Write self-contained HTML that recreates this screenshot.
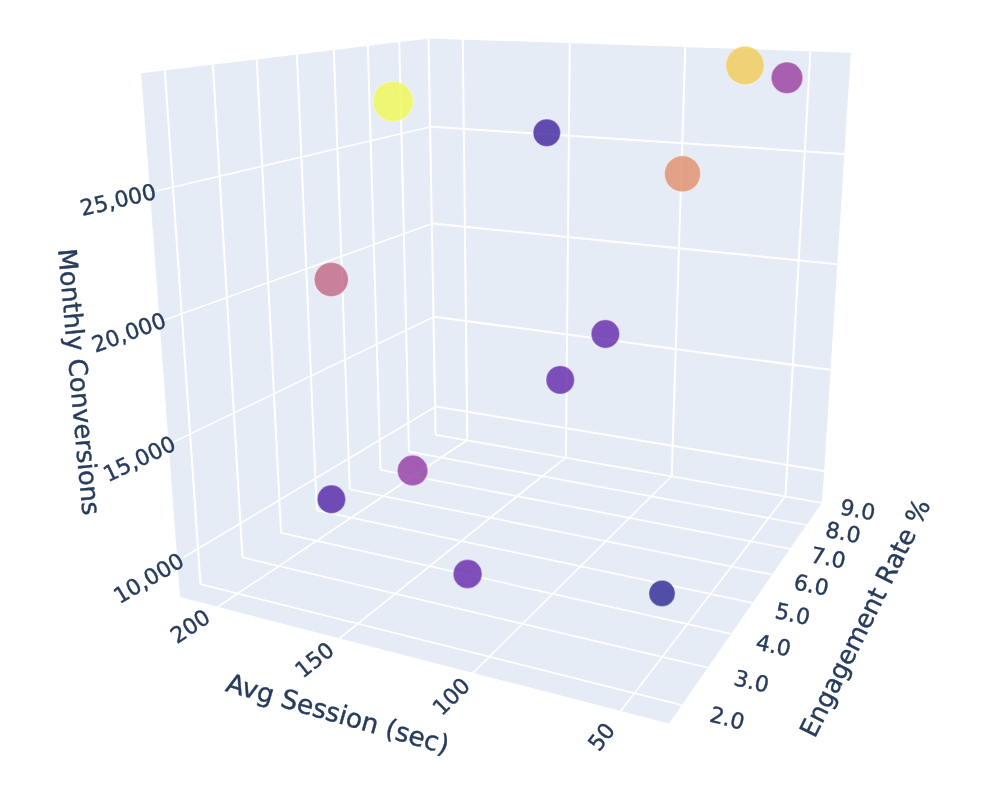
<!DOCTYPE html>
<html><head><meta charset="utf-8"><title>3D scatter</title>
<style>html,body{margin:0;padding:0;background:#fff}svg{display:block}</style></head>
<body><svg width="1000" height="807" viewBox="0 0 1000 807">
<rect width="1000" height="807" fill="#fff"/>
<polygon points="141.2,73.3 429.1,38.4 850.8,52.8 822.1,502.5 669.1,723.5 180.0,597.1" fill="#e5ecf6"/>
<g stroke="#fff" fill="none" stroke-linecap="butt">
<path d="M200.5,584.1 L164.8,70.4" stroke-width="2.0"/>
<path d="M681.9,705.1 L200.5,584.1" stroke-width="1.7"/>
<path d="M242.5,557.4 L212.9,64.6" stroke-width="2.0"/>
<path d="M707.7,667.7 L242.5,557.4" stroke-width="1.7"/>
<path d="M281.1,532.9 L256.7,59.3" stroke-width="2.0"/>
<path d="M731.2,633.8 L281.1,532.9" stroke-width="1.7"/>
<path d="M316.8,510.3 L296.9,54.4" stroke-width="2.0"/>
<path d="M752.5,602.9 L316.8,510.3" stroke-width="1.7"/>
<path d="M349.8,489.3 L333.8,50.0" stroke-width="2.0"/>
<path d="M772.1,574.7 L349.8,489.3" stroke-width="1.7"/>
<path d="M380.5,469.8 L367.8,45.8" stroke-width="2.0"/>
<path d="M790.0,548.8 L380.5,469.8" stroke-width="1.7"/>
<path d="M409.0,451.7 L399.3,42.0" stroke-width="2.0"/>
<path d="M806.5,525.0 L409.0,451.7" stroke-width="1.7"/>
<path d="M435.6,434.8 L428.5,38.5" stroke-width="2.0"/>
<path d="M821.7,502.9 L435.6,434.8" stroke-width="1.7"/>
<path d="M785.5,496.0 L810.4,51.4" stroke-width="2.0"/>
<path d="M620.7,711.0 L785.5,496.0" stroke-width="1.7"/>
<path d="M671.7,476.0 L685.3,47.1" stroke-width="2.0"/>
<path d="M473.0,672.8 L671.7,476.0" stroke-width="1.7"/>
<path d="M565.9,457.3 L569.8,43.2" stroke-width="2.0"/>
<path d="M339.4,638.3 L565.9,457.3" stroke-width="1.7"/>
<path d="M467.3,440.0 L462.8,39.6" stroke-width="2.0"/>
<path d="M217.8,606.9 L467.3,440.0" stroke-width="1.7"/>
<path d="M177.4,561.0 L435.7,406.5" stroke-width="1.6"/>
<path d="M824.1,471.0 L435.7,406.5" stroke-width="2.0"/>
<path d="M168.7,444.4 L434.1,316.7" stroke-width="1.6"/>
<path d="M830.5,369.8 L434.1,316.7" stroke-width="2.0"/>
<path d="M159.6,321.7 L432.4,223.5" stroke-width="1.6"/>
<path d="M837.3,264.2 L432.4,223.5" stroke-width="2.0"/>
<path d="M150.0,192.5 L430.7,126.7" stroke-width="1.6"/>
<path d="M844.3,153.9 L430.7,126.7" stroke-width="2.0"/>
</g>
<g stroke="#fff" stroke-opacity="0.45" stroke-width="0.8">
<circle cx="393.10" cy="101.40" r="20.10" fill="rgb(241,248,78)" fill-opacity="0.78"/>
<circle cx="745.00" cy="65.50" r="19.20" fill="rgb(243,203,82)" fill-opacity="0.78"/>
<circle cx="787.00" cy="77.80" r="15.80" fill="rgb(153,55,156)" fill-opacity="0.78"/>
<circle cx="546.80" cy="132.80" r="13.70" fill="rgb(60,30,154)" fill-opacity="0.78"/>
<circle cx="682.50" cy="173.85" r="18.00" fill="rgb(225,139,104)" fill-opacity="0.78"/>
<circle cx="331.25" cy="279.50" r="17.00" fill="rgb(194,98,129)" fill-opacity="0.78"/>
<circle cx="605.35" cy="334.00" r="14.20" fill="rgb(94,33,168)" fill-opacity="0.78"/>
<circle cx="560.25" cy="379.90" r="14.20" fill="rgb(94,33,168)" fill-opacity="0.78"/>
<circle cx="412.60" cy="470.45" r="15.20" fill="rgb(144,51,161)" fill-opacity="0.78"/>
<circle cx="331.40" cy="499.30" r="14.20" fill="rgb(79,30,164)" fill-opacity="0.78"/>
<circle cx="467.60" cy="574.00" r="14.40" fill="rgb(98,33,168)" fill-opacity="0.78"/>
<circle cx="662.00" cy="593.40" r="13.10" fill="rgb(38,33,142)" fill-opacity="0.78"/>
</g>
<g fill="#273b5b" stroke="#273b5b" stroke-width="0.4" font-family="'DejaVu Sans','Liberation Sans',sans-serif" text-anchor="middle">
<text transform="translate(118.0 199.5) rotate(-13.2)" font-size="22.0" dy="0.365em">25,000</text>
<text transform="translate(128.7 332.1) rotate(-19.8)" font-size="22.0" dy="0.365em">20,000</text>
<text transform="translate(139.2 458.5) rotate(-25.7)" font-size="22.0" dy="0.365em">15,000</text>
<text transform="translate(148.5 577.9) rotate(-30.9)" font-size="22.0" dy="0.365em">10,000</text>
<text transform="translate(190.0 626.0) rotate(-33.8)" font-size="22.0" dy="0.365em">200</text>
<text transform="translate(314.2 659.6) rotate(-38.7)" font-size="22.0" dy="0.365em">150</text>
<text transform="translate(451.0 696.2) rotate(-44.8)" font-size="22.0" dy="0.365em">100</text>
<text transform="translate(601.2 736.5) rotate(-52.5)" font-size="22.0" dy="0.365em">50</text>
<text transform="translate(857.9 509.5) rotate(10.0)" font-size="22.0" dy="0.365em">9.0</text>
<text transform="translate(843.2 532.1) rotate(10.4)" font-size="22.0" dy="0.365em">8.0</text>
<text transform="translate(828.4 557.4) rotate(10.9)" font-size="22.0" dy="0.365em">7.0</text>
<text transform="translate(811.4 584.5) rotate(11.5)" font-size="22.0" dy="0.365em">6.0</text>
<text transform="translate(792.7 613.6) rotate(12.0)" font-size="22.0" dy="0.365em">5.0</text>
<text transform="translate(773.6 644.9) rotate(12.7)" font-size="22.0" dy="0.365em">4.0</text>
<text transform="translate(751.7 681.0) rotate(13.4)" font-size="22.0" dy="0.365em">3.0</text>
<text transform="translate(727.4 717.8) rotate(14.1)" font-size="22.0" dy="0.365em">2.0</text>
<text transform="translate(77.0 382.0) rotate(84.7)" font-size="25.6" dy="0.262em">Monthly Conversions</text>
<text transform="translate(337.2 715.8) rotate(16.0)" font-size="26.3" dy="0.262em">Avg Session (sec)</text>
<text transform="translate(867.0 618.8) rotate(-63.6)" font-size="25.5" dy="0.262em">Engagement Rate %</text>
</g>
</svg></body></html>
